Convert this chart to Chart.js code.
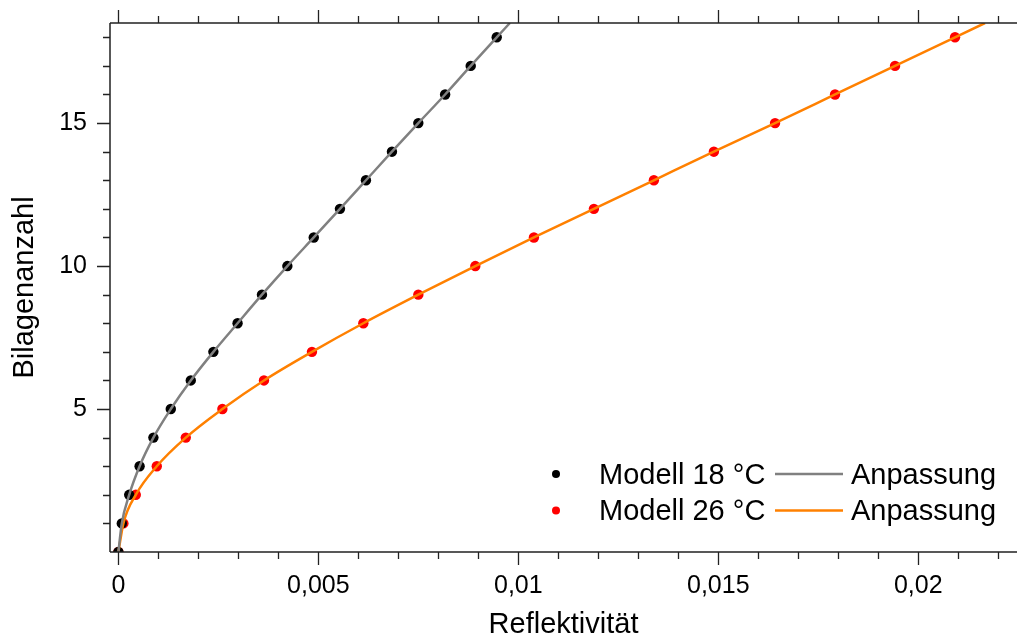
<!DOCTYPE html>
<html>
<head>
<meta charset="utf-8">
<script src="https://cdn.jsdelivr.net/npm/chart.js@4.4.1/dist/chart.umd.min.js"></script>
<style>
  html, body { margin: 0; padding: 0; background: #fff; }
  #wrap { width: 1017px; height: 637px; position: relative; }
</style>
</head>
<body>
<div id="wrap"><canvas id="reflektivitaet"></canvas></div>
<script>
//
// Data
//

var layers = [0, 1, 2, 3, 4, 5, 6, 7, 8, 9, 10, 11, 12, 13, 14, 15, 16, 17, 18];
var refl18 = [0, 0.000085, 0.00027, 0.00053, 0.000875, 0.00131, 0.00181, 0.002375, 0.00298, 0.00359,
              0.004225, 0.004885, 0.00554, 0.00619, 0.00684, 0.0075, 0.00817, 0.00881, 0.00946];
var refl26 = [0, 0.000125, 0.000435, 0.00096, 0.001685, 0.0026, 0.00364, 0.00484, 0.006125, 0.0075,
              0.008925, 0.01039, 0.01189, 0.01339, 0.01489, 0.01642, 0.01792, 0.01942, 0.02092];
// end of the fit curves at the top edge
var fitEndLayer = 18.5;
var fitEnd18 = 0.00979;
var fitEnd26 = 0.02167;

var xTickValues = [0, 0.005, 0.01, 0.015, 0.02];
var xTickLabels = ['0', '0,005', '0,01', '0,015', '0,02'];
var yTickValues = [5, 10, 15];
var xMinorStep = 0.001;
var yMinorStep = 1;

var labels = ['Modell 18 °C', 'Anpassung', 'Modell 26 °C', 'Anpassung'];


//
// Helpers
//

function toPoints(xs, ys) {
	return xs.map(function(v, i) { return { x: v, y: ys[i] }; });
}

Chart.defaults.font.family = '"Liberation Sans", Arial, sans-serif';
Chart.defaults.color = '#000';

// axis lines and ticks (left, bottom, mirrored top)
var axisFrame = {
	id: 'axisFrame',
	afterDraw: function(chart) {
		var ctx = chart.ctx, a = chart.chartArea;
		var x = chart.scales.x, y = chart.scales.y;
		ctx.save();
		ctx.strokeStyle = '#222';
		ctx.lineWidth = 1.5;
		ctx.beginPath();
		ctx.moveTo(a.left, a.bottom); ctx.lineTo(a.right, a.bottom);
		ctx.moveTo(a.left, a.top); ctx.lineTo(a.right, a.top);
		ctx.moveTo(a.left, a.top); ctx.lineTo(a.left, a.bottom);
		ctx.stroke();

		ctx.lineWidth = 1.3;
		ctx.beginPath();
		for (var i = 0; i * xMinorStep <= x.max + 1e-9; i++) {
			var px = Math.round(x.getPixelForValue(i * xMinorStep)) + 0.5;
			var len = (i % 5 === 0) ? 13 : 7;
			ctx.moveTo(px, a.bottom); ctx.lineTo(px, a.bottom + len);
			ctx.moveTo(px, a.top); ctx.lineTo(px, a.top - len);
		}
		for (var j = 1; j * yMinorStep <= y.max; j++) {
			var py = Math.round(y.getPixelForValue(j * yMinorStep)) + 0.5;
			var ylen = (j % 5 === 0) ? 13 : 7;
			ctx.moveTo(a.left, py); ctx.lineTo(a.left - ylen, py);
		}
		ctx.stroke();
		ctx.restore();
	}
};

// legend inside the plot: marker, label, fit line, fit label
var insideLegend = {
	id: 'insideLegend',
	afterDraw: function(chart) {
		var ctx = chart.ctx;
		var ds = chart.data.datasets;
		var rows = [[ds[0], ds[1]], [ds[2], ds[3]]];
		ctx.save();
		ctx.font = '29px "Liberation Sans", Arial, sans-serif';
		ctx.textBaseline = 'alphabetic';
		rows.forEach(function(r, i) {
			var cy = 474 + i * 36.5;
			ctx.beginPath();
			ctx.fillStyle = r[0].backgroundColor;
			ctx.arc(556, cy, 4, 0, Math.PI * 2);
			ctx.fill();
			ctx.fillStyle = '#000';
			ctx.fillText(r[0].label, 599, cy + 9.5);
			ctx.strokeStyle = r[1].borderColor;
			ctx.lineWidth = 2.5;
			ctx.beginPath();
			ctx.moveTo(775, cy); ctx.lineTo(843, cy);
			ctx.stroke();
			ctx.fillText(r[1].label, 851, cy + 9.5);
		});
		ctx.restore();
	}
};


//
// Chart
//

var chart = new Chart(document.getElementById('reflektivitaet'), {
	type: 'scatter',
	data: {
		datasets: [{
			label: labels[0],
			data: toPoints(refl18, layers),
			backgroundColor: '#000',
			borderColor: '#000',
			pointRadius: 5.2,
			pointBorderWidth: 0,
			clip: 0,
			order: 3
		}, {
			label: labels[1],
			data: toPoints(refl18.concat([fitEnd18]), layers.concat([fitEndLayer])),
			showLine: true,
			borderColor: '#808080',
			backgroundColor: '#808080',
			borderWidth: 2.5,
			pointRadius: 0,
			cubicInterpolationMode: 'monotone',
			clip: 0,
			order: 1
		}, {
			label: labels[2],
			data: toPoints(refl26, layers),
			backgroundColor: '#ff0000',
			borderColor: '#ff0000',
			pointRadius: 5.2,
			pointBorderWidth: 0,
			clip: 0,
			order: 4
		}, {
			label: labels[3],
			data: toPoints(refl26.concat([fitEnd26]), layers.concat([fitEndLayer])),
			showLine: true,
			borderColor: '#ff8000',
			backgroundColor: '#ff8000',
			borderWidth: 2.5,
			pointRadius: 0,
			cubicInterpolationMode: 'monotone',
			clip: 0,
			order: 2
		}]
	},
	options: {
		responsive: true,
		maintainAspectRatio: false,
		animation: false,
		layout: { autoPadding: false, padding: { top: 23, right: 0, left: 0, bottom: 0 } },
		plugins: {
			legend: { display: false },
			tooltip: { enabled: false }
		},
		scales: {
			x: {
				type: 'linear',
				position: 'bottom',
				min: -0.00021,
				max: 0.02247,
				grid: { display: false, drawTicks: false },
				border: { display: false },
				afterBuildTicks: function(scale) {
					scale.ticks = xTickValues.map(function(v) { return { value: v }; });
				},
				afterFit: function(scale) {
					scale.height = 85;
					scale.paddingLeft = 0;
					scale.paddingRight = 0;
				},
				ticks: {
					padding: 19,
					maxRotation: 0,
					font: { size: 25 },
					color: '#000',
					callback: function(v) {
						var k = xTickValues.indexOf(v);
						return k >= 0 ? xTickLabels[k] : '';
					}
				},
				title: {
					display: true,
					text: 'Reflektivität',
					color: '#000',
					font: { size: 29, lineHeight: 0.8 },
					padding: { top: 0, bottom: 0 }
				}
			},
			y: {
				type: 'linear',
				position: 'left',
				min: 0,
				max: 18.5,
				grid: { display: false, drawTicks: false },
				border: { display: false },
				afterBuildTicks: function(scale) {
					scale.ticks = yTickValues.map(function(v) { return { value: v }; });
				},
				afterFit: function(scale) {
					scale.width = 110;
					scale.paddingTop = 0;
					scale.paddingBottom = 0;
				},
				ticks: {
					padding: 23,
					font: { size: 25 },
					color: '#000'
				},
				title: {
					display: true,
					text: 'Bilagenanzahl',
					color: '#000',
					font: { size: 29, lineHeight: 0.8 },
					padding: { top: 13, bottom: 0 }
				}
			}
		}
	},
	plugins: [axisFrame, insideLegend]
});
</script>
</body>
</html>
